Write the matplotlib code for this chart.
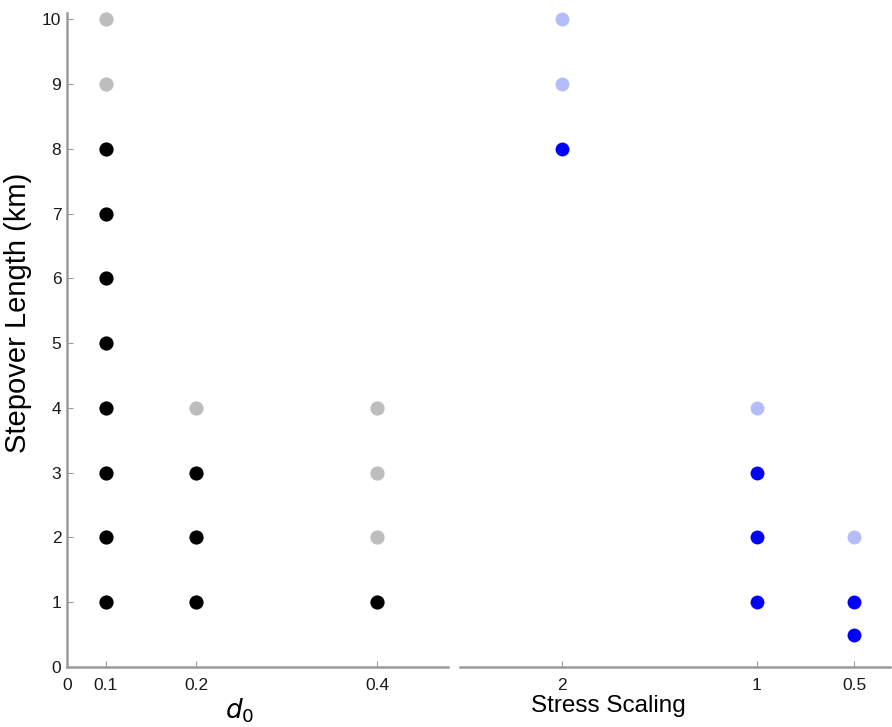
import matplotlib.pyplot as plt

plt.rcParams['font.family'] = ['Liberation Sans', 'DejaVu Sans']

# d0 runs: stepover lengths that ruptured through (solid) vs stopped (faded)
d0_pass_x = [0.1] * 8 + [0.2] * 3 + [0.4]
d0_pass_y = [1, 2, 3, 4, 5, 6, 7, 8, 1, 2, 3, 1]
d0_stop_x = [0.1, 0.1, 0.2, 0.4, 0.4, 0.4]
d0_stop_y = [9, 10, 4, 2, 3, 4]

# stress scaling runs
ss_pass_x = [2, 1, 1, 1, 0.5, 0.5]
ss_pass_y = [8, 1, 2, 3, 0.5, 1]
ss_stop_x = [2, 2, 1, 0.5]
ss_stop_y = [9, 10, 4, 2]

d0_ticks = [0.1, 0.2, 0.4]
ss_ticks = [2, 1, 0.5]
y_ticks = list(range(0, 11))

spine_col = '#9a9a9a'
fig = plt.figure(figsize=(8.92, 7.27), dpi=100)
ax1 = fig.add_axes([0.075, 0.0825, 0.427, 0.9])
ax2 = fig.add_axes([0.516, 0.0825, 0.482, 0.9], sharey=ax1)

ax1.scatter(d0_stop_x, d0_stop_y, s=105, color='#bdbdbd', zorder=3, clip_on=False, linewidths=0)
ax1.scatter(d0_pass_x, d0_pass_y, s=105, color='black', zorder=3, clip_on=False, linewidths=0)
ax2.scatter(ss_stop_x, ss_stop_y, s=100, color='#b4bdfb', zorder=3, clip_on=False, linewidths=0)
ax2.scatter(ss_pass_x, ss_pass_y, s=100, color='#0000ff', zorder=3, clip_on=False, linewidths=0)

ax1.set_xlim(0.0569, 0.478)
ax1.set_ylim(0, 10.1)
ax1.set_xticks([0.0569] + d0_ticks)
ax1.set_xticklabels(['0', '0.1', '0.2', '0.4'])
ax1.set_yticks(y_ticks)
ax1.set_xlabel(r'$d_0$', fontsize=19, va='top')
ax1.xaxis.set_label_coords(0.454, -0.045)
ax1.set_ylabel('Stepover Length (km)', fontsize=21)
ax1.yaxis.set_label_coords(-0.092, 0.541)

ax2.set_xlim(2.52, 0.315)
ax2.set_xticks(ss_ticks)
ax2.set_xticklabels(['2', '1', '0.5'])
ax2.set_xlabel('Stress Scaling', fontsize=17.5, va='top')
ax2.xaxis.set_label_coords(0.344, -0.043)
ax2.tick_params(axis='y', left=False, labelleft=False)

for ax in (ax1, ax2):
    for side in ('top', 'right'):
        ax.spines[side].set_visible(False)
    for side in ('left', 'bottom'):
        ax.spines[side].set_color(spine_col)
        ax.spines[side].set_linewidth(1.8)
    ax.tick_params(direction='in', length=4, color=spine_col, labelsize=12.5,
                   labelcolor='#1a1a1a')
    ax.tick_params(axis='x', pad=8)
    ax.tick_params(axis='y', pad=4)
ax2.spines['left'].set_visible(False)
ax1.xaxis.get_major_ticks()[0].tick1line.set_visible(False)

fig.savefig('out.png', dpi=100)
